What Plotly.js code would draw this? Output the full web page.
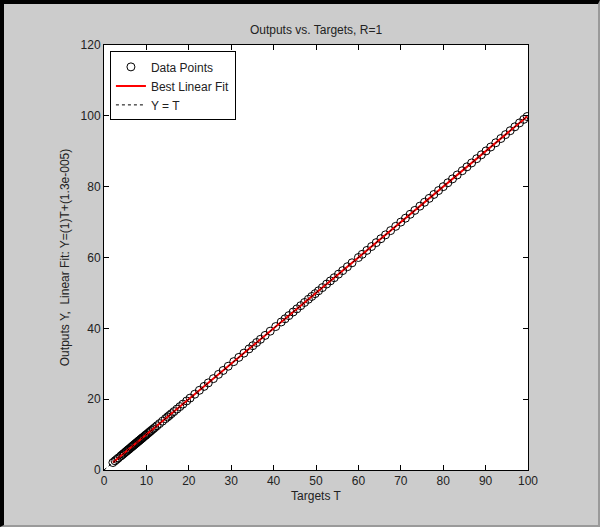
<!DOCTYPE html>
<html>
<head>
<meta charset="utf-8">
<script src="https://cdn.plot.ly/plotly-3.0.1.min.js"></script>
<style>
  html, body { margin: 0; padding: 0; background: #cccccc; }
  #wrap { width: 600px; height: 527px; box-sizing: border-box;
          border-top: 4px solid #000; border-left: 4px solid #000;
          border-right: 2px solid #9a9a9a; border-bottom: 2px solid #9a9a9a;
          background: #cccccc; }
  #plot { width: 594px; height: 521px; }
</style>
</head>
<body>
<div id="wrap"><div id="plot"></div></div>
<script>
// Targets (T)
const targets = [2.1, 2.6, 3.0, 3.4, 3.9, 4.2, 4.5, 4.8, 5.1, 5.3, 5.6, 5.8, 6.0, 6.3, 6.5, 6.7, 6.9, 7.1, 7.3, 7.5,
  7.7, 7.9, 8.1, 8.3, 8.5, 8.7, 8.9, 9.1, 9.3, 9.6, 9.8, 10.0, 10.3, 10.6, 10.9, 11.2, 11.6, 12.0, 12.5, 13.1,
  13.8, 14.5, 15.0, 15.4, 15.9, 16.5, 17.2, 17.9, 18.6, 19.5, 20.3, 21.4, 22.5, 23.6, 24.6, 25.8, 27.0, 28.1,
  29.3, 30.6, 31.8, 33.0, 34.2, 35.1, 36.0, 36.9, 38.0, 39.2, 40.5, 41.8, 42.7, 43.6, 44.6, 45.5, 46.4, 47.3,
  48.2, 49.0, 49.8, 50.6, 51.5, 52.5, 53.4, 54.3, 55.3, 56.3, 57.4, 58.5, 60.0, 60.9, 62.0, 63.1, 64.2, 65.3,
  66.4, 67.6, 68.8, 70.0, 71.1, 72.2, 73.3, 74.5, 75.6, 76.7, 77.8, 78.9, 80.0, 81.1, 82.2, 83.3, 84.5, 85.6,
  86.7, 87.9, 89.0, 90.1, 91.2, 92.4, 93.6, 94.7, 95.8, 96.9, 98.0, 99.0, 99.8];
// Outputs (Y) (R = 1, outputs equal targets)
const outputs = [2.1, 2.6, 3.0, 3.4, 3.9, 4.2, 4.5, 4.8, 5.1, 5.3, 5.6, 5.8, 6.0, 6.3, 6.5, 6.7, 6.9, 7.1, 7.3, 7.5,
  7.7, 7.9, 8.1, 8.3, 8.5, 8.7, 8.9, 9.1, 9.3, 9.6, 9.8, 10.0, 10.3, 10.6, 10.9, 11.2, 11.6, 12.0, 12.5, 13.1,
  13.8, 14.5, 15.0, 15.4, 15.9, 16.5, 17.2, 17.9, 18.6, 19.5, 20.3, 21.4, 22.5, 23.6, 24.6, 25.8, 27.0, 28.1,
  29.3, 30.6, 31.8, 33.0, 34.2, 35.1, 36.0, 36.9, 38.0, 39.2, 40.5, 41.8, 42.7, 43.6, 44.6, 45.5, 46.4, 47.3,
  48.2, 49.0, 49.8, 50.6, 51.5, 52.5, 53.4, 54.3, 55.3, 56.3, 57.4, 58.5, 60.0, 60.9, 62.0, 63.1, 64.2, 65.3,
  66.4, 67.6, 68.8, 70.0, 71.1, 72.2, 73.3, 74.5, 75.6, 76.7, 77.8, 78.9, 80.0, 81.1, 82.2, 83.3, 84.5, 85.6,
  86.7, 87.9, 89.0, 90.1, 91.2, 92.4, 93.6, 94.7, 95.8, 96.9, 98.0, 99.0, 99.8];
// Best linear fit end points
const fitT = [2.1, 99.8];
const fitY = [2.1, 99.8];
// Y = T reference line
const refT = [0, 100];
const refY = [0, 100];
const xTicks = [0, 10, 20, 30, 40, 50, 60, 70, 80, 90, 100];
const yTicks = [0, 20, 40, 60, 80, 100, 120];

const font = { family: 'Liberation Sans, Arial, sans-serif', size: 12, color: '#222' };

const traces = [
  { x: targets, y: outputs, type: 'scatter', mode: 'markers', name: 'Data Points',
    marker: { symbol: 'circle-open', size: 8, color: '#000', line: { width: 1, color: '#000' } } },
  { x: fitT, y: fitY, type: 'scatter', mode: 'lines', name: 'Best Linear Fit',
    line: { color: '#ff0000', width: 2 } },
  { x: refT, y: refY, type: 'scatter', mode: 'lines', name: 'Y = T',
    line: { color: '#000', width: 1, dash: 'dot' } }
];

const axisCommon = {
  showgrid: false, zeroline: false, showline: true, linecolor: '#000', linewidth: 1,
  mirror: 'ticks', ticks: 'inside', ticklen: 5, tickcolor: '#000', tickwidth: 1,
  tickfont: font
};

const layout = {
  width: 594, height: 521,
  paper_bgcolor: '#cccccc', plot_bgcolor: '#ffffff',
  margin: { l: 100, r: 70, t: 41, b: 55 },
  font: font,
  showlegend: true,
  title: { text: 'Outputs vs. Targets, R=1', font: font, x: 0.5, xref: 'paper',
           y: 1 - 26 / 521, yref: 'container', yanchor: 'middle' },
  xaxis: Object.assign({}, axisCommon, { range: [0, 100], tickvals: xTicks,
           title: { text: 'Targets T', font: font, standoff: 4 } }),
  yaxis: Object.assign({}, axisCommon, { range: [0, 120], tickvals: yTicks,
           title: { text: 'Outputs Y,  Linear Fit: Y=(1)T+(1.3e-005)', font: font, standoff: 8 } }),
  legend: { x: 0.014, y: 0.985, xanchor: 'left', yanchor: 'top', bgcolor: '#ffffff',
            bordercolor: '#000', borderwidth: 1, font: font, tracegroupgap: 0 }
};

Plotly.newPlot('plot', traces, layout, { displayModeBar: false, staticPlot: true });
</script>
</body>
</html>
